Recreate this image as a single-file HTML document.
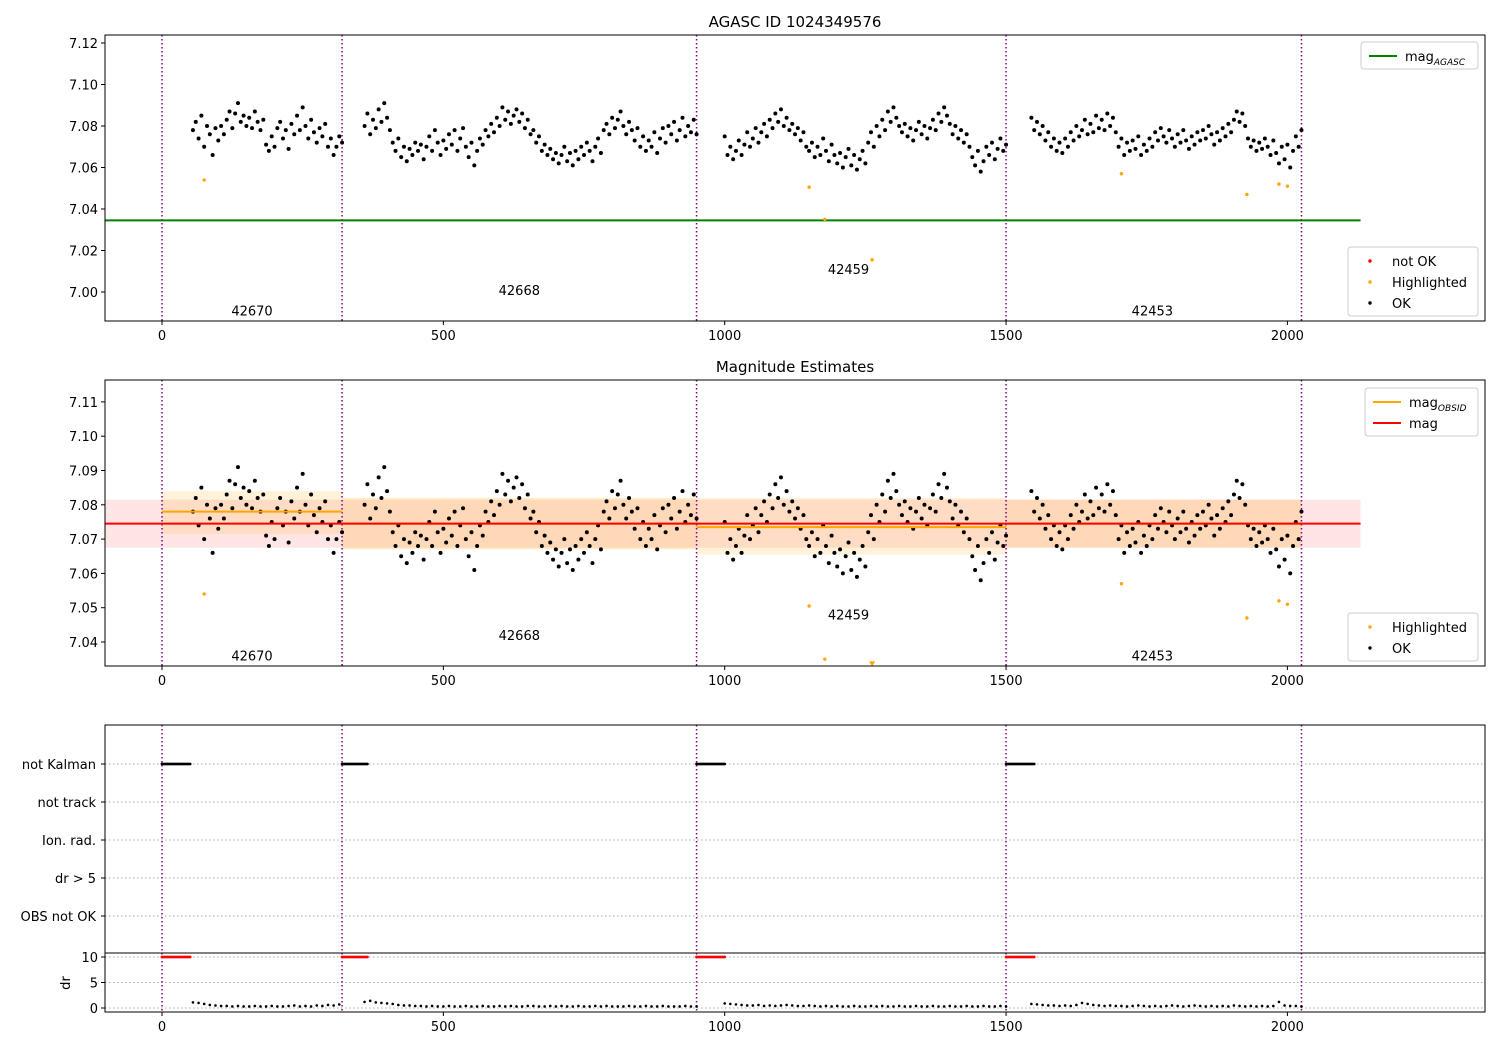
<!DOCTYPE html>
<html><head><meta charset="utf-8">
<style>
html,body{margin:0;padding:0;background:#fff;}
svg{display:block;font-family:"DejaVu Sans","Liberation Sans",sans-serif;}
</style></head>
<body>
<svg id="chart" width="1500" height="1050" viewBox="0 0 1500 1050" xmlns="http://www.w3.org/2000/svg">
<defs>
<clipPath id="c1"><rect x="105" y="35" width="1380" height="286"/></clipPath>
<clipPath id="c2"><rect x="105" y="380" width="1380" height="286"/></clipPath>
<clipPath id="c3"><rect x="105" y="953" width="1380" height="59"/></clipPath>
</defs>
<rect width="1500" height="1050" fill="#fff"/>
<text x="795" y="27" font-size="15" text-anchor="middle">AGASC ID 1024349576</text>
<text x="795" y="372" font-size="15" text-anchor="middle">Magnitude Estimates</text>
<g id="g1"></g>
<g id="g2"></g>
<g id="g3"></g>
<g id="g4"></g>
</svg>
<script>
const obsids = ["42670","42668","42459","42453"];
const obsStarts = [55, 360, 1000, 1545];
const obsStep = 5;
const obsBounds = [0, 320, 950, 1500, 2025];
const mag42670 = [7.078,7.082,7.074,7.085,7.070,7.080,7.076,7.066,7.079,7.073,
7.080,7.076,7.083,7.087,7.079,7.086,7.091,7.082,7.085,7.080,
7.084,7.079,7.087,7.082,7.078,7.083,7.071,7.068,7.075,7.070,
7.079,7.082,7.074,7.078,7.069,7.081,7.076,7.085,7.078,7.089,
7.080,7.074,7.083,7.077,7.072,7.079,7.075,7.081,7.070,7.074,
7.066,7.070,7.075,7.072];
const mag42668 = [7.080,7.086,7.076,7.083,7.079,7.088,7.082,7.091,7.084,7.078,
7.072,7.068,7.074,7.065,7.070,7.063,7.069,7.066,7.072,7.068,
7.071,7.064,7.070,7.075,7.068,7.078,7.072,7.066,7.073,7.069,
7.076,7.071,7.078,7.068,7.074,7.079,7.070,7.065,7.072,7.061,
7.068,7.074,7.071,7.078,7.075,7.081,7.077,7.084,7.080,7.089,
7.083,7.087,7.081,7.085,7.088,7.082,7.086,7.079,7.083,7.076,
7.078,7.072,7.075,7.068,7.071,7.066,7.069,7.064,7.067,7.062,
7.066,7.070,7.063,7.067,7.061,7.068,7.064,7.070,7.066,7.072,
7.068,7.063,7.070,7.074,7.067,7.078,7.081,7.076,7.084,7.079,
7.083,7.087,7.080,7.076,7.082,7.078,7.073,7.079,7.070,7.075,
7.068,7.073,7.070,7.077,7.067,7.074,7.079,7.072,7.080,7.076,
7.082,7.073,7.078,7.084,7.075,7.080,7.077,7.083,7.076];
const mag42459 = [7.075,7.066,7.070,7.064,7.068,7.073,7.066,7.071,7.077,7.070,
7.074,7.079,7.072,7.077,7.081,7.075,7.083,7.079,7.086,7.082,
7.088,7.080,7.084,7.078,7.081,7.076,7.079,7.073,7.077,7.070,
7.068,7.072,7.065,7.070,7.066,7.074,7.068,7.063,7.071,7.066,
7.062,7.067,7.060,7.065,7.069,7.061,7.066,7.059,7.064,7.068,
7.062,7.072,7.077,7.070,7.080,7.075,7.083,7.078,7.087,7.082,
7.089,7.084,7.080,7.077,7.081,7.075,7.079,7.073,7.078,7.082,
7.076,7.080,7.074,7.079,7.083,7.078,7.086,7.082,7.089,7.085,
7.081,7.076,7.080,7.074,7.078,7.072,7.076,7.070,7.065,7.061,
7.068,7.058,7.063,7.070,7.066,7.072,7.064,7.069,7.074,7.068,
7.071];
const mag42453 = [7.084,7.078,7.082,7.076,7.080,7.073,7.077,7.070,7.074,7.068,
7.072,7.067,7.074,7.070,7.077,7.073,7.080,7.075,7.078,7.083,
7.076,7.081,7.077,7.085,7.079,7.083,7.078,7.086,7.080,7.084,
7.077,7.070,7.074,7.066,7.072,7.068,7.073,7.069,7.075,7.066,
7.071,7.068,7.074,7.070,7.077,7.073,7.079,7.075,7.072,7.078,
7.074,7.070,7.076,7.072,7.078,7.073,7.069,7.075,7.071,7.077,
7.073,7.078,7.074,7.080,7.076,7.071,7.077,7.073,7.079,7.075,
7.081,7.077,7.083,7.087,7.082,7.086,7.080,7.074,7.070,7.073,
7.068,7.072,7.069,7.074,7.070,7.066,7.073,7.067,7.062,7.070,
7.064,7.071,7.060,7.068,7.075,7.070,7.078];
const magSeries = [mag42670, mag42668, mag42459, mag42453];
const hlTimes = [75, 1150, 1178, 1262, 1705, 1928, 1985, 2000];
const hlMags = [7.054, 7.0505, 7.035, 7.0155, 7.057, 7.047, 7.052, 7.051];
const agascMag = 7.0345;
const meanMag = 7.0745, meanLo = 7.0675, meanHi = 7.0815;
const obsidMag = [7.078, 7.0745, 7.0735, 7.0745];
const obsidLo = [7.0715, 7.067, 7.0655, 7.0675];
const obsidHi = [7.084, 7.082, 7.082, 7.0815];
const labelMag1 = [6.991, 7.001, 7.011, 6.991];
const labelMag2 = [7.036, 7.042, 7.048, 7.036];
const labelTime = [160, 635, 1220, 1760];
const notKalmanEnd = [50, 365, 1000, 1550];
const drStep = 10;
const dr42670 = [1.1,1.0,0.8,0.6,0.5,0.4,0.4,0.3,0.4,0.3,0.3,0.4,0.3,0.3,0.4,0.3,0.3,0.4,0.5,0.3,0.4,0.3,0.5,0.4,0.6,0.5,0.7];
const dr42668 = [1.2,1.4,1.1,1.0,0.9,0.8,0.6,0.5,0.5,0.4,0.4,0.3,0.4,0.3,0.3,0.4,0.3,0.3,0.4,0.3,0.3,0.4,0.3,0.3,0.4,0.3,0.4,0.3,0.3,0.4,0.4,0.3,0.3,0.4,0.3,0.4,0.3,0.3,0.4,0.3,0.3,0.4,0.3,0.4,0.3,0.3,0.3,0.4,0.3,0.3,0.4,0.3,0.3,0.4,0.3,0.3,0.3,0.4,0.3,0.3];
const dr42459 = [0.9,0.8,0.7,0.6,0.5,0.5,0.6,0.4,0.5,0.4,0.5,0.6,0.5,0.4,0.4,0.5,0.4,0.3,0.4,0.3,0.4,0.3,0.3,0.4,0.3,0.3,0.4,0.3,0.4,0.3,0.3,0.4,0.3,0.3,0.4,0.3,0.3,0.4,0.3,0.3,0.4,0.3,0.3,0.4,0.3,0.3,0.4,0.3,0.3,0.4,0.3];
const dr42453 = [0.8,0.7,0.6,0.5,0.5,0.4,0.5,0.4,0.6,1.0,0.8,0.6,0.5,0.4,0.5,0.4,0.4,0.3,0.4,0.5,0.4,0.3,0.4,0.3,0.4,0.5,0.4,0.3,0.4,0.5,0.4,0.3,0.4,0.3,0.4,0.3,0.5,0.4,0.3,0.4,0.3,0.4,0.3,0.4,1.2,0.5,0.4,0.4,0.3];
const drSeries = [dr42670, dr42668, dr42459, dr42453];
const flagLabels = ["not Kalman","not track","Ion. rad.","dr > 5","OBS not OK"];
const xTicks = [0, 500, 1000, 1500, 2000];
const y1Ticks = [7.00, 7.02, 7.04, 7.06, 7.08, 7.10, 7.12];
const y2Ticks = [7.04, 7.05, 7.06, 7.07, 7.08, 7.09, 7.10, 7.11];
const drTicks = [0, 5, 10];

const NS = "http://www.w3.org/2000/svg";
const L = 105, R = 1485;
const X = t => 162 + t * 0.5627;
const Y1 = v => 292 - (v - 7.00) * 2075;
const Y2 = v => 642 - (v - 7.04) * 3430;
const YD = v => 1008 - v * 5.1;
const flagY = i => 764 + i * 38;

function el(parent, tag, attrs, text) {
  const e = document.createElementNS(NS, tag);
  for (const k in attrs) e.setAttribute(k, attrs[k]);
  if (text !== undefined) e.textContent = text;
  parent.appendChild(e);
  return e;
}
function frame(g, top, bot) {
  const f = el(g, "rect", {x: L, y: top, width: R - L, height: bot - top, fill: "none", stroke: "#000", "stroke-width": 1});
  
  
}
function xAxis(g, bot) {
  xTicks.forEach(t => {
    el(g, "line", {x1: X(t), x2: X(t), y1: bot, y2: bot + 4, stroke: "#000"});
    const tx = el(g, "text", {x: X(t), y: bot + 19, "font-size": 13, "text-anchor": "middle"}, String(t));
    
    
  });
}
function yAxis(g, ticks, Y, fmt) {
  ticks.forEach(v => {
    el(g, "line", {x1: L - 4, x2: L, y1: Y(v), y2: Y(v), stroke: "#000"});
    const tx = el(g, "text", {x: L - 7, y: Y(v) + 5, "font-size": 13, "text-anchor": "end"}, fmt(v));
    
    
  });
}
function vlines(g, top, bot) {
  obsBounds.forEach(t => {
    const l = el(g, "line", {x1: X(t), x2: X(t), y1: top, y2: bot, stroke: "#800080", "stroke-width": 1.5, "stroke-dasharray": "1.5,2.5"});
    
    
  });
}
function scatterMag(g, Y) {
  magSeries.forEach((arr, s) => {
    arr.forEach((v, i) => {
      const c = el(g, "circle", {cx: X(obsStarts[s] + i * obsStep), cy: Y(v), r: 2.0, fill: "#000"});
      
      
    });
  });
  hlTimes.forEach((t, i) => {
    const c = el(g, "circle", {cx: X(t), cy: Y(hlMags[i]), r: 1.7, fill: "orange"});
    
    
  });
}
function obsLabels(g, Y, mags) {
  obsids.forEach((o, i) => {
    const t = el(g, "text", {x: X(labelTime[i]), y: Y(mags[i]) + 5, "font-size": 13, "text-anchor": "middle"}, o);
    
    
  });
}
function legend(g, x, y, w, entries) {
  const h = entries.length * 21 + 6;
  const b = el(g, "rect", {x: x, y: y, width: w, height: h, rx: 3, fill: "#fff", "fill-opacity": 0.85, stroke: "#ccc"});
  
  
  entries.forEach((e, i) => {
    const cy = y + 14 + i * 21;
    if (e.type === "line") el(g, "line", {x1: x + 8, x2: x + 36, y1: cy, y2: cy, stroke: e.color, "stroke-width": 2});
    else el(g, "circle", {cx: x + 22, cy: cy, r: 1.7, fill: e.color});
    const t = el(g, "text", {x: x + 44, y: cy + 5, "font-size": 13}, e.label);
    if (e.sub) el(t, "tspan", {"font-size": 9, "font-style": "italic", dy: 4}, e.sub);
    
    
  });
}

// Panel 1
const g1 = document.getElementById("g1");
const p1 = el(g1, "g", {"clip-path": "url(#c1)"});
vlines(p1, 35, 321);
const ag = el(p1, "line", {x1: X(-101), x2: X(2130), y1: Y1(agascMag), y2: Y1(agascMag), stroke: "green", "stroke-width": 2});


scatterMag(p1, Y1);
obsLabels(p1, Y1, labelMag1);
frame(g1, 35, 321);
xAxis(g1, 321);
yAxis(g1, y1Ticks, Y1, v => v.toFixed(2));
legend(g1, 1361, 42, 117, [{type: "line", color: "green", label: "mag", sub: "AGASC"}]);
legend(g1, 1348, 247, 130, [{type: "dot", color: "red", label: "not OK"}, {type: "dot", color: "orange", label: "Highlighted"}, {type: "dot", color: "#000", label: "OK"}]);

// Panel 2
const g2 = document.getElementById("g2");
const p2 = el(g2, "g", {"clip-path": "url(#c2)"});
const band = el(p2, "rect", {x: X(-101), y: Y2(meanHi), width: X(2130) - X(-101), height: Y2(meanLo) - Y2(meanHi), fill: "red", "fill-opacity": 0.1});


obsidMag.forEach((m, i) => {
  const b = el(p2, "rect", {x: X(obsBounds[i]), y: Y2(obsidHi[i]), width: X(obsBounds[i + 1]) - X(obsBounds[i]), height: Y2(obsidLo[i]) - Y2(obsidHi[i]), fill: "orange", "fill-opacity": i === 0 || i === 2 ? 0.15 : 0.2});
  
  
});
vlines(p2, 380, 666);
scatterMag(p2, Y2);
const tri = el(p2, "path", {d: `M${X(1262)-3},${Y2(7.0335)-3} L${X(1262)+3},${Y2(7.0335)-3} L${X(1262)},${Y2(7.0335)+2} Z`, fill: "orange"});


obsidMag.forEach((m, i) => {
  const l = el(p2, "line", {x1: X(obsBounds[i]), x2: X(obsBounds[i + 1]), y1: Y2(m), y2: Y2(m), stroke: "orange", "stroke-width": 2});
  
  
});
const ml = el(p2, "line", {x1: X(-101), x2: X(2130), y1: Y2(meanMag), y2: Y2(meanMag), stroke: "red", "stroke-width": 2});


obsLabels(p2, Y2, labelMag2);
frame(g2, 380, 666);
xAxis(g2, 666);
yAxis(g2, y2Ticks, Y2, v => v.toFixed(2));
legend(g2, 1365, 388, 113, [{type: "line", color: "orange", label: "mag", sub: "OBSID"}, {type: "line", color: "red", label: "mag"}]);
legend(g2, 1348, 613, 130, [{type: "dot", color: "orange", label: "Highlighted"}, {type: "dot", color: "#000", label: "OK"}]);

// Panel 3 flags
const g3 = document.getElementById("g3");
flagLabels.forEach((f, i) => {
  el(g3, "line", {x1: L, x2: R, y1: flagY(i), y2: flagY(i), stroke: "#aaa", "stroke-dasharray": "1.5,2.5"});
  el(g3, "line", {x1: L - 4, x2: L, y1: flagY(i), y2: flagY(i), stroke: "#000"});
  const t = el(g3, "text", {x: L - 9, y: flagY(i) + 5, "font-size": 13, "text-anchor": "end"}, f);
  
  
});
vlines(g3, 725, 953);
obsBounds.slice(0, 4).forEach((t0, i) => {
  for (let t = t0; t <= notKalmanEnd[i]; t += 2.5) {
    const c = el(g3, "circle", {cx: X(t), cy: flagY(0), r: 1.4, fill: "#000"});
    
    
  }
});
el(g3, "rect", {x: L, y: 725, width: R - L, height: 228, fill: "none", stroke: "#000"});

// dr panel
const g4 = document.getElementById("g4");
const p4 = el(g4, "g", {"clip-path": "url(#c3)"});
drTicks.forEach(v => el(p4, "line", {x1: L, x2: R, y1: YD(v), y2: YD(v), stroke: "#aaa", "stroke-dasharray": "1.5,2.5"}));
vlines(p4, 953, 1012);
obsBounds.slice(0, 4).forEach((t0, i) => {
  for (let t = t0; t <= notKalmanEnd[i]; t += 2.5) {
    const c = el(p4, "circle", {cx: X(t), cy: YD(10), r: 1.4, fill: "red"});
    
    
  }
});
drSeries.forEach((arr, s) => {
  arr.forEach((v, i) => {
    const c = el(p4, "circle", {cx: X(obsStarts[s] + i * drStep), cy: YD(v), r: 1.3, fill: "#000"});
    
    
  });
});
el(g4, "rect", {x: L, y: 953, width: R - L, height: 59, fill: "none", stroke: "#000"});
yAxis(g4, drTicks, YD, v => String(v));
xAxis(g4, 1012);
const dl = el(g4, "text", {x: 70, y: 983, "font-size": 13, "text-anchor": "middle", transform: "rotate(-90 70 983)"}, "dr");


</script>
</body></html>
